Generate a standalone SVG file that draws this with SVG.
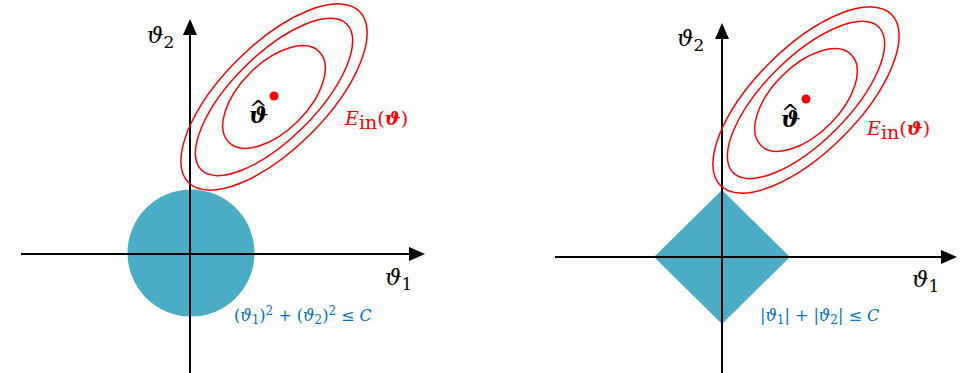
<svg xmlns="http://www.w3.org/2000/svg" width="970" height="373" viewBox="0 0 970 373">
<style>
.ax{stroke:#000;stroke-width:2;fill:none}
.reg{fill:#4BACC6}
.ell{fill:none;stroke:#FF0000;stroke-width:1.5}
.dot{fill:#FF0000}
.m{font-family:"DejaVu Serif","Liberation Serif",serif}
.lab{font-size:23px;font-style:italic;fill:#000}
.sub{font-size:17px;font-style:normal}
.hat{font-size:23px;font-weight:bold;font-style:italic;fill:#000}
.cf{font-size:22px;font-weight:normal;font-style:normal}
.ein{font-size:19px;fill:#FF0000}
.con{font-size:16px;fill:#0070C0}
</style>
<defs>
<marker id="arr" markerUnits="userSpaceOnUse" markerWidth="16" markerHeight="14" refX="9" refY="7" orient="auto" viewBox="0 0 16 14">
<path d="M0,0 L16,7 L0,14 z" fill="#000"/>
</marker>
</defs>

<g id="left-region"><circle class="reg" cx="191" cy="253" r="63.5"/></g>
<g id="right-region"><polygon class="reg" points="722,190 790,257 722,324 654,257"/></g>

<g id="connectors">
<line class="ax" x1="21" y1="254" x2="418" y2="254" marker-end="url(#arr)"/>
<line class="ax" x1="190" y1="373" x2="190" y2="26" marker-end="url(#arr)"/>
<line class="ax" x1="555" y1="257" x2="950" y2="257" marker-end="url(#arr)"/>
<line class="ax" x1="722" y1="373" x2="722" y2="30" marker-end="url(#arr)"/>
</g>

<g id="left-contours" transform="translate(274,97) rotate(-45)">
<ellipse class="ell" rx="121" ry="52"/>
<ellipse class="ell" rx="103" ry="42"/>
<ellipse class="ell" rx="64" ry="34"/>
</g>
<g id="right-contours" transform="translate(806,100) rotate(-45)">
<ellipse class="ell" rx="121" ry="52"/>
<ellipse class="ell" rx="103" ry="42"/>
<ellipse class="ell" rx="64" ry="34"/>
</g>

<g id="left-optimum">
<circle class="dot" cx="274" cy="96" r="4.5"/>
<text class="m hat" x="249" y="123">ϑ<tspan class="cf" x="249" y="116">^</tspan></text>
</g>
<g id="right-optimum">
<circle class="dot" cx="806" cy="99" r="4.5"/>
<text class="m hat" x="781" y="127">ϑ<tspan class="cf" x="781" y="120">^</tspan></text>
</g>

<g id="left-labels">
<text class="m lab" x="147" y="43">ϑ<tspan class="sub" dy="5">2</tspan></text>
<text class="m lab" x="385" y="285">ϑ<tspan class="sub" dy="5">1</tspan></text>
<text class="m ein" x="345" y="125"><tspan font-style="italic">E</tspan><tspan dy="4">in</tspan><tspan dy="-4">(</tspan><tspan font-style="italic" font-weight="bold">ϑ</tspan>)</text>
<text class="m con" x="234" y="321">(<tspan font-style="italic">ϑ</tspan><tspan font-size="12" dy="3">1</tspan><tspan dy="-3">)</tspan><tspan font-size="12" dy="-6">2</tspan><tspan dy="6"> + (</tspan><tspan font-style="italic">ϑ</tspan><tspan font-size="12" dy="3">2</tspan><tspan dy="-3">)</tspan><tspan font-size="12" dy="-6">2</tspan><tspan dy="6"> ≤ </tspan><tspan font-style="italic">C</tspan></text>
</g>
<g id="right-labels">
<text class="m lab" x="677" y="46">ϑ<tspan class="sub" dy="5">2</tspan></text>
<text class="m lab" x="912" y="287">ϑ<tspan class="sub" dy="5">1</tspan></text>
<text class="m ein" x="867" y="135"><tspan font-style="italic">E</tspan><tspan dy="4">in</tspan><tspan dy="-4">(</tspan><tspan font-style="italic" font-weight="bold">ϑ</tspan>)</text>
<text class="m con" x="760" y="321">|<tspan font-style="italic">ϑ</tspan><tspan font-size="12" dy="3">1</tspan><tspan dy="-3">| + |</tspan><tspan font-style="italic">ϑ</tspan><tspan font-size="12" dy="3">2</tspan><tspan dy="-3">| ≤ </tspan><tspan font-style="italic">C</tspan></text>
</g>
</svg>
